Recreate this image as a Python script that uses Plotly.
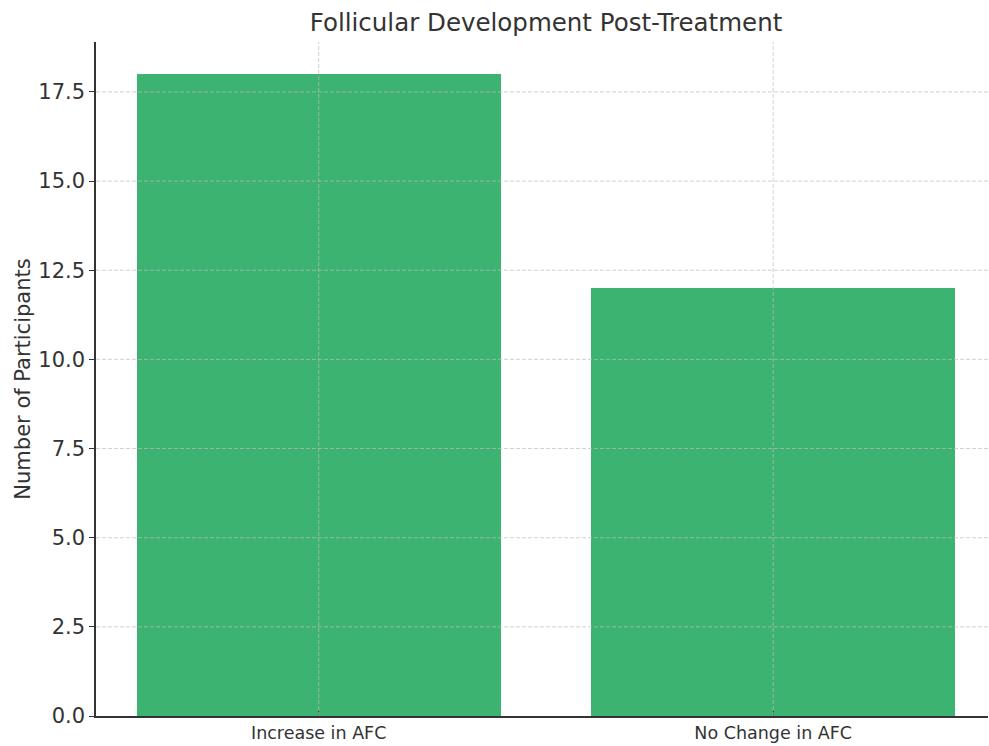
import plotly.graph_objects as go

categories = ["Increase in AFC", "No Change in AFC"]
participants = [18, 12]
y_ticks = [0, 2.5, 5, 7.5, 10, 12.5, 15, 17.5]
y_tick_text = ["0.0", "2.5", "5.0", "7.5", "10.0", "12.5", "15.0", "17.5"]

bar_color = "#3cb371"
grid_color = "rgba(190,190,190,0.7)"
axis_color = "#333333"
font_family = "DejaVu Sans, sans-serif"

x_pos = list(range(len(categories)))

fig = go.Figure()
fig.add_trace(go.Bar(
    x=x_pos,
    y=participants,
    width=0.8,
    marker=dict(color=bar_color, line=dict(width=0)),
    hoverinfo="x+y",
))

# dashed grid drawn on top of the bars
grid_line = dict(color=grid_color, width=1, dash="4px,2px")
shapes = []
for t in y_ticks[1:]:
    shapes.append(dict(type="line", xref="paper", yref="y", x0=0, x1=1, y0=t, y1=t,
                       line=grid_line, layer="above"))
for xp in x_pos:
    shapes.append(dict(type="line", xref="x", yref="paper", x0=xp, x1=xp, y0=0, y1=1,
                       line=grid_line, layer="above"))

fig.update_layout(
    width=989, height=746,
    margin=dict(l=96, r=1, t=42, b=30),
    paper_bgcolor="white", plot_bgcolor="white",
    font=dict(family=font_family, color=axis_color),
    title=dict(text="Follicular Development Post-Treatment",
               x=546 / 989, xanchor="center", y=1 - 22 / 746, yanchor="middle",
               font=dict(size=24.5, color=axis_color)),
    shapes=shapes,
    showlegend=False,
    bargap=0,
)

fig.update_xaxes(
    range=[-0.49, 1.4726],
    tickvals=x_pos, ticktext=categories,
    tickfont=dict(size=17.5, color=axis_color),
    ticks="inside", ticklen=5, tickcolor=axis_color, tickwidth=1.2,
    showline=True, linecolor=axis_color, linewidth=1.5,
    showgrid=False, zeroline=False, fixedrange=True,
)
fig.update_yaxes(
    range=[0, 18.9],
    tickvals=y_ticks, ticktext=y_tick_text,
    tickfont=dict(size=21, color=axis_color),
    ticks="outside", ticklen=5, tickcolor=axis_color, tickwidth=1.2,
    showline=True, linecolor=axis_color, linewidth=1.5,
    showgrid=False, zeroline=False, fixedrange=True,
    title=dict(text="Number of Participants", font=dict(size=21, color=axis_color), standoff=2),
)

fig.write_html("out.html")
